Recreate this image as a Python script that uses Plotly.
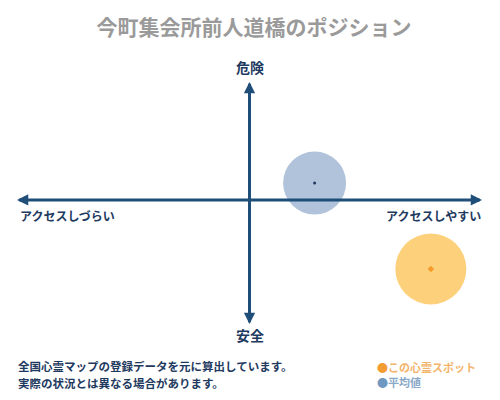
import plotly.graph_objects as go

# positions on the access (x) / danger (y) axes, both scaled to -1..1
series_names = ['この心霊スポット', '平均値']
access_scores = [0.78, 0.28]
danger_scores = [-0.57, 0.14]
bubble_sizes = [71, 63]
bubble_colors = ['rgba(253,196,90,0.8)', 'rgba(142,170,203,0.7)']
dot_colors = ['#f39c2a', '#1f3a5f']
dot_symbols = ['diamond', 'circle']
dot_sizes = [5, 3]

title_text = '今町集会所前人道橋のポジション'
axis_labels = {'top': '危険', 'bottom': '安全',
               'left': 'アクセスしづらい', 'right': 'アクセスしやすい'}
notes = ['全国心霊マップの登録データを元に算出しています。',
         '実際の状況とは異なる場合があります。']

# the page body adds an 8px margin, so the figure is drawn 8px in
OFF = 8
W, H = 500 - OFF, 400 - OFF
L, R, T, B = 17 - OFF, 18, 82 - OFF, 76
NAVY = '#1f4e79'
TEXT = '#1f3a5f'
FONT = 'Noto Sans CJK JP'


def px(x):
    return (x - OFF - L) / (W - L - R)


def py(y):
    return (H - B - (y - OFF)) / (H - T - B)


fig = go.Figure()

for name, x, y, s, c, d, sym, ds in zip(series_names, access_scores, danger_scores,
                                        bubble_sizes, bubble_colors, dot_colors,
                                        dot_symbols, dot_sizes):
    fig.add_trace(go.Scatter(
        x=[x], y=[y], mode='markers', name=name, showlegend=False,
        marker=dict(size=s, color=c, line=dict(width=0)),
        hoverinfo='skip'
    ))
    fig.add_trace(go.Scatter(
        x=[x], y=[y], mode='markers', showlegend=False,
        marker=dict(size=ds, color=d, symbol=sym),
        hoverinfo='skip'
    ))

# axis lines
fig.add_shape(type='line', x0=-0.99, x1=0.99, y0=0, y1=0, xref='x', yref='y',
              line=dict(color=NAVY, width=3), layer='above')
fig.add_shape(type='line', x0=0, x1=0, y0=-1.01, y1=0.96, xref='x', yref='y',
              line=dict(color=NAVY, width=3), layer='above')

# arrow heads
for hx, hy, dx, dy in [(1, 0, -12, 0), (-1, 0, 12, 0),
                       (0, 0.975, 0, 12), (0, -1.025, 0, -12)]:
    fig.add_annotation(
        x=hx, y=hy, ax=dx, ay=dy, xref='x', yref='y',
        text='', showarrow=True, arrowhead=2, arrowsize=0.75,
        arrowwidth=3, arrowcolor=NAVY, standoff=0
    )


def label(x, y, text, font, xanchor='center'):
    fig.add_annotation(x=px(x), y=py(y), xref='paper', yref='paper',
                       xanchor=xanchor, yanchor='middle', text=text,
                       showarrow=False, font=font)


lab_font = dict(family=FONT, size=14, color=TEXT, weight='bold')
side_font = dict(family=FONT, size=12, color=TEXT, weight='bold')
label(249.5, 67, axis_labels['top'], lab_font)
label(249.5, 335, axis_labels['bottom'], lab_font)
label(18, 216, axis_labels['left'], side_font, 'left')
label(483, 216, axis_labels['right'], side_font, 'right')

note_font = dict(family=FONT, size=11.5, color=TEXT, weight='bold')
for i, line in enumerate(notes):
    label(16, 366 + 17 * i, line, note_font, 'left')

legend_text = ['#f3b46a', '#8aa8c8']
legend_dot = ['#f39c34', '#6f98c0']
for i, name in enumerate(series_names):
    label(375, 367 + 15 * i,
          f"<span style='color:{legend_dot[i]}'>●</span>{name}",
          dict(family=FONT, size=11, color=legend_text[i], weight='bold'), 'left')

fig.update_layout(
    width=W, height=H,
    margin=dict(l=L, r=R, t=T, b=B),
    paper_bgcolor='white', plot_bgcolor='white',
    title=dict(text=title_text, x=0.5, xanchor='center', y=1 - (28 - OFF) / H,
               yanchor='middle',
               font=dict(family=FONT, size=21, color='#9a9a9a', weight='bold')),
    xaxis=dict(range=[-1, 1], visible=False, fixedrange=True),
    yaxis=dict(range=[-1.025, 0.975], visible=False, fixedrange=True),
    showlegend=False
)

fig.write_html("out.html")
